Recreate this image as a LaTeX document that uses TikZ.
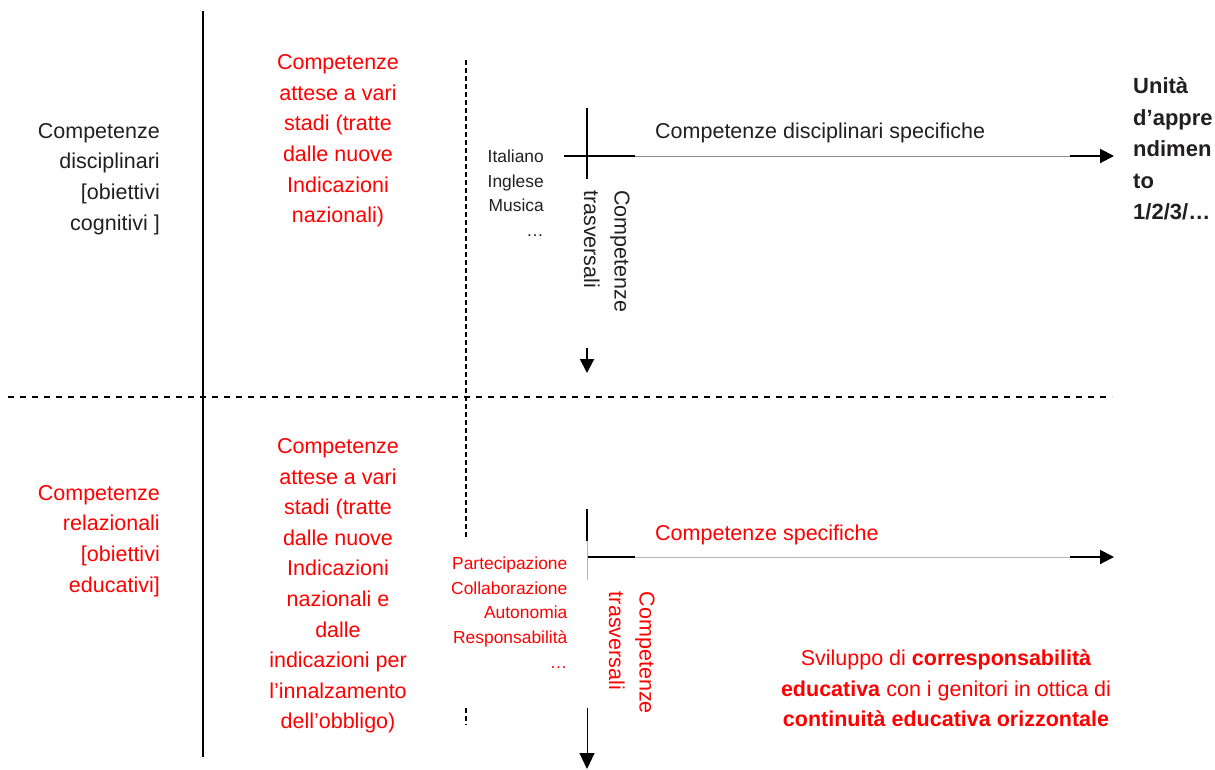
\documentclass[tikz,border=0pt]{standalone}
\usepackage{fontspec}
\setmainfont{Liberation Sans}
\usetikzlibrary{arrows.meta}
\definecolor{txtgray}{HTML}{231F20}
\definecolor{thingray}{HTML}{8C8C8C}
\definecolor{thingraylight}{HTML}{B4B4B4}
\definecolor{myred}{HTML}{FF0000}
\begin{document}
\begin{tikzpicture}[x=1pt,y=-1pt,
  big/.style={inner sep=0pt,font=\fontsize{21.5}{30.6}\selectfont},
  small/.style={inner sep=0pt,font=\fontsize{17.4}{24.6}\selectfont,align=right,anchor=east},
  thick line/.style={line width=2pt,draw=black},
  thin line/.style={line width=1pt,draw=thingray},
  arrowtip/.style={line width=2pt,-{Triangle[length=14pt,width=14pt]}},
  dashh/.style={line width=1.8pt,dash pattern=on 6pt off 6pt},
  dashv/.style={line width=2pt,dash pattern=on 5pt off 3pt}]
\useasboundingbox (0,0) rectangle (1215,769);

% main separators
\coordinate (vT) at (203,11);
\coordinate (vB) at (203,757);
\draw[line width=2pt] (vT) -- (vB);
\coordinate (hL) at (8,397);
\coordinate (hR) at (1112,397);
\draw[dashh] (hL) -- (hR);
\coordinate (dT) at (466,60);
\coordinate (dB) at (466,537);
\draw[dashv] (dT) -- (dB);
\coordinate (dT2) at (466,708);
\coordinate (dB2) at (466,725);
\draw[dashv] (dT2) -- (dB2);

% left texts
\node[big,align=right,anchor=east,text=txtgray] (lt) at (160,179) {Competenze\\disciplinari\\{[obiettivi}\\cognitivi ]};
\node[big,align=right,anchor=east,text=myred] (lb) at (160,541) {Competenze\\relazionali\\{[obiettivi}\\educativi]};

% middle red texts
\node[big,align=center,text=myred] (mt) at (338,141) {Competenze\\attese a vari\\stadi (tratte\\dalle nuove\\Indicazioni\\nazionali)};
\node[big,align=center,text=myred] (mb) at (338,586) {Competenze\\attese a vari\\stadi (tratte\\dalle nuove\\Indicazioni\\nazionali e\\dalle\\indicazioni per\\l’innalzamento\\dell’obbligo)};

% small lists
\node[small,text=txtgray] (lista) at (544,193) {Italiano\\Inglese\\Musica\\…};
\node[small,text=myred] (listb) at (567.5,612.5) {Partecipazione\\Collaborazione\\Autonomia\\Responsabilità\\…};

% upper cross
\coordinate (uvT) at (587,108);
\coordinate (uvB) at (587,179);
\draw[thick line] (uvT) -- (uvB);
\coordinate (uhL) at (564,156);
\coordinate (uhM) at (635,156);
\coordinate (uhA) at (1070,156);
\coordinate (uhE) at (1114,156);
\draw[thick line] (uhL) -- (uhM);
\draw[thin line] (uhM) -- (uhA);
\draw[arrowtip] (uhA) -- (uhE);
\coordinate (udT) at (587,348);
\coordinate (udB) at (587,373);
\draw[arrowtip] (udT) -- (udB);
\node[big,anchor=west,text=txtgray] (ulab) at (655,133) {Competenze disciplinari specifiche};
\node[big,rotate=-90,anchor=west,align=left,text=txtgray] (utr) at (606.7,190) {Competenze\\trasversali};

% unit text
\node[inner sep=0pt,font=\fontsize{22}{31.5}\selectfont\bfseries,align=left,anchor=west,text=txtgray] (unita) at (1133,149) {Unità\\d’appre\\ndimen\\to\\1/2/3/…};

% lower cross
\coordinate (lvT) at (587,509);
\coordinate (lvM) at (587,541);
\coordinate (lvB) at (587,580);
\draw[thick line] (lvT) -- (lvM);
\draw[thin line,draw=thingraylight] (lvM) -- (lvB);
\coordinate (lhL) at (588,557);
\coordinate (lhM) at (635,557);
\coordinate (lhA) at (1070,557);
\coordinate (lhE) at (1114,557);
\draw[thick line] (lhL) -- (lhM);
\draw[thin line,draw=thingraylight] (lhM) -- (lhA);
\draw[arrowtip] (lhA) -- (lhE);
\coordinate (ldT) at (587,708);
\coordinate (ldM) at (587,752);
\coordinate (ldB) at (587,769);
\draw[line width=1pt] (ldT) -- (ldM);
\draw[-{Triangle[length=16pt,width=15pt]},line width=1pt] (ldM) -- (ldB);
\node[big,anchor=west,text=myred] (llab) at (655,535) {Competenze specifiche};
\node[big,rotate=-90,anchor=west,align=left,text=myred] (ltr) at (631.7,591.7) {Competenze\\trasversali};

% bottom right
\node[big,align=center,text=myred] (svil) at (946,688.5) {Sviluppo di \textbf{corresponsabilità}\\\textbf{educativa} con i genitori in ottica di\\\textbf{continuità educativa orizzontale}};
\end{tikzpicture}
\end{document}
